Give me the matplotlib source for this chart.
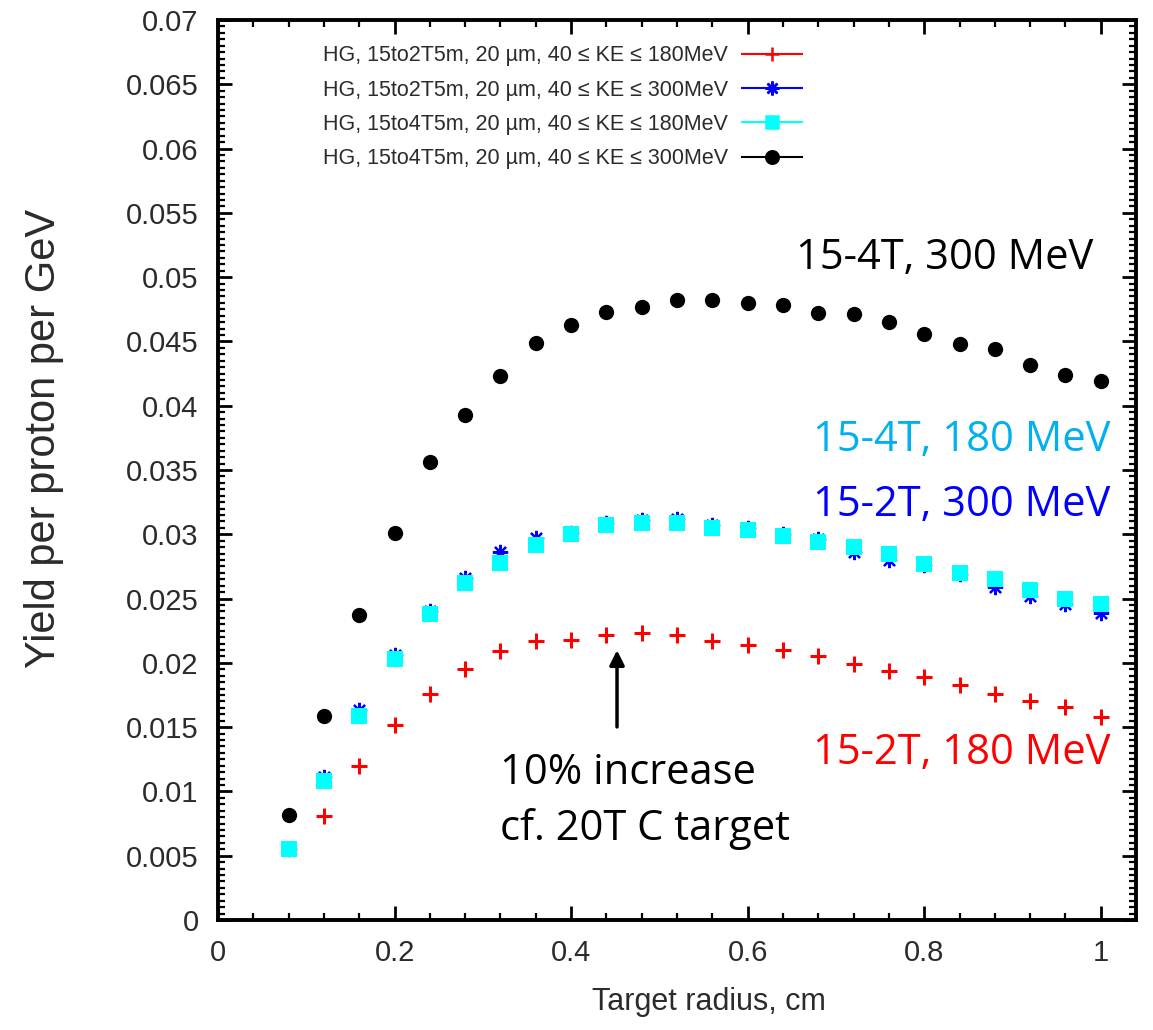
import matplotlib
matplotlib.use("Agg")
import matplotlib.pyplot as plt
from matplotlib.ticker import MultipleLocator, FuncFormatter
from matplotlib.container import ErrorbarContainer
from matplotlib.legend_handler import HandlerErrorbar

# target radius (cm)
radius = [0.08, 0.12, 0.16, 0.20, 0.24, 0.28, 0.32, 0.36, 0.40, 0.44, 0.48, 0.52,
          0.56, 0.60, 0.64, 0.68, 0.72, 0.76, 0.80, 0.84, 0.88, 0.92, 0.96, 1.00]
radius_red = radius[1:]

# yield per proton per GeV
y_2t_180 = [0.0081, 0.0120, 0.0152, 0.0176, 0.0195, 0.0209, 0.0217, 0.0218, 0.0222,
            0.0223, 0.0222, 0.0217, 0.0214, 0.0210, 0.0205, 0.0199, 0.0194, 0.0189,
            0.0183, 0.0176, 0.0170, 0.0166, 0.0158]
y_2t_300 = [0.0055, 0.0111, 0.0163, 0.0206, 0.0240, 0.0266, 0.0286, 0.0297, 0.0301,
            0.0309, 0.0311, 0.0312, 0.0307, 0.0305, 0.0300, 0.0296, 0.0286, 0.0280,
            0.0276, 0.0269, 0.0259, 0.0252, 0.0246, 0.0239]
y_4t_180 = [0.0055, 0.0108, 0.0159, 0.0203, 0.0238, 0.0262, 0.0278, 0.0292, 0.0300,
            0.0307, 0.0309, 0.0309, 0.0305, 0.0303, 0.0299, 0.0294, 0.0290, 0.0285,
            0.0277, 0.0270, 0.0265, 0.0257, 0.0250, 0.0246]
y_4t_300 = [0.0082, 0.0159, 0.0237, 0.0301, 0.0356, 0.0393, 0.0423, 0.0449, 0.0463,
            0.0473, 0.0477, 0.0482, 0.0482, 0.0480, 0.0478, 0.0472, 0.0471, 0.0465,
            0.0456, 0.0448, 0.0444, 0.0432, 0.0424, 0.0419]

labels = ["HG, 15to2T5m, 20 \u00b5m, 40 \u2264 KE \u2264 180MeV",
          "HG, 15to2T5m, 20 \u00b5m, 40 \u2264 KE \u2264 300MeV",
          "HG, 15to4T5m, 20 \u00b5m, 40 \u2264 KE \u2264 180MeV",
          "HG, 15to4T5m, 20 \u00b5m, 40 \u2264 KE \u2264 300MeV"]

plt.rcParams['font.family'] = ['Liberation Sans', 'DejaVu Sans']
txt_gray = '#2b2b2b'

fig = plt.figure(figsize=(11.53, 10.30), dpi=100)
ax = fig.add_axes([0.1891, 0.1068, 0.7962, 0.8738])

ax.plot(radius_red, y_2t_180, ls='none', marker='+', ms=11, mew=2.2, color='#ff0000')
ax.plot(radius, y_2t_300, ls='none', marker=(8, 2, 0), ms=11, mew=1.6, color='#0000ff')
ax.plot(radius, y_4t_180, ls='none', marker='s', ms=11, mew=0, color='#00ffff')
ax.plot(radius, y_4t_300, ls='none', marker='o', ms=11, mew=0, color='black')

# legend-only handles in gnuplot style (marker on a bar with end caps)
styles = [('+', '#ff0000', 10), ((8, 2, 0), '#0000ff', 10), ('s', '#00ffff', 9), ('o', 'black', 9)]
handles = []
for mk, col, ms in styles:
    h = ax.errorbar([], [], xerr=[], fmt='', marker=mk, linestyle='none', ms=ms, mew=1.8,
                    color=col, ecolor=col, elinewidth=1.5, capsize=4.5, capthick=1.5)
    handles.append(h)

leg_size = 15.5
hl = 44.6 / leg_size
leg = ax.legend(handles, labels, loc='upper right', bbox_to_anchor=(0.637, 0.972),
                frameon=False, markerfirst=False, numpoints=1, fontsize=leg_size,
                handlelength=hl, handletextpad=9.4 / leg_size, labelspacing=0.62,
                borderaxespad=0, borderpad=0,
                handler_map={ErrorbarContainer: HandlerErrorbar(xerr_size=hl / 2)})
for t in leg.get_texts():
    t.set_color(txt_gray)

ax.set_xlim(0, 1.04)
ax.set_ylim(0, 0.07)
ax.xaxis.set_major_locator(MultipleLocator(0.2))
ax.xaxis.set_minor_locator(MultipleLocator(0.04))
ax.yaxis.set_major_locator(MultipleLocator(0.005))
ax.yaxis.set_minor_locator(MultipleLocator(0.0005))
fmt = FuncFormatter(lambda v, p: '%g' % round(v, 4))
ax.xaxis.set_major_formatter(fmt)
ax.yaxis.set_major_formatter(fmt)

ax.tick_params(which='both', direction='in', top=True, right=True)
ax.tick_params(which='major', length=10, width=2, labelsize=21, labelcolor=txt_gray)
ax.tick_params(which='minor', length=5, width=1.6)
ax.tick_params(axis='x', which='major', pad=14)
ax.tick_params(axis='y', which='major', pad=14)
for sp in ax.spines.values():
    sp.set_linewidth(2.8)

ax.set_xlabel('Target radius, cm', fontsize=22, color=txt_gray)
ax.set_ylabel('Yield per proton per GeV', fontsize=30, color=txt_gray)
ax.xaxis.set_label_coords(0.535, -0.075)
ax.yaxis.set_label_coords(-0.168, 0.535)

# slide annotations
ann = dict(family=['Open Sans', 'DejaVu Sans'], fontsize=30, transform=ax.transAxes)
ax.text(0.953, 0.736, '15-4T, 300 MeV', color='black', ha='right', va='center', **ann)
ax.text(0.972, 0.533, '15-4T, 180 MeV', color='#00b0f0', ha='right', va='center', **ann)
ax.text(0.972, 0.461, '15-2T, 300 MeV', color='#0000ff', ha='right', va='center', **ann)
ax.text(0.972, 0.185, '15-2T, 180 MeV', color='#ff0000', ha='right', va='center', **ann)
ax.text(0.307, 0.132, '10% increase\ncf. 20T C target', color='black', ha='left',
        va='center', linespacing=1.45, **ann)
ax.annotate('', xy=(0.452, 0.0212), xytext=(0.452, 0.0148),
            arrowprops=dict(arrowstyle='-|>', color='black', lw=2.5, mutation_scale=22))

fig.savefig('out.png', dpi=100)
